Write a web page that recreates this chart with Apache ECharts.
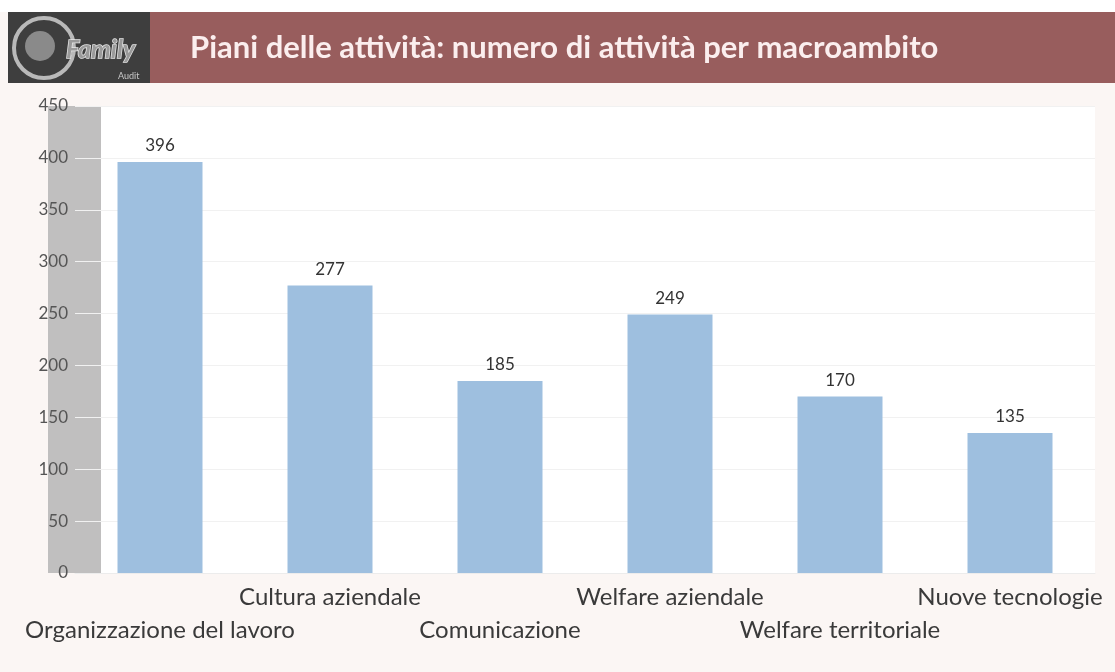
<!DOCTYPE html>
<html>
<head>
<meta charset="utf-8">
<title>Piani delle attività</title>
<script src="https://cdn.jsdelivr.net/npm/echarts@6/dist/echarts.min.js"></script>
<style>
  html, body { margin: 0; padding: 0; background: #fbf6f4; }
  #chart { width: 1115px; height: 672px; }
</style>
</head>
<body>
<div id="chart"></div>
<script>
// Macroambiti and activity counts
const categories = [
  'Organizzazione del lavoro',
  'Cultura aziendale',
  'Comunicazione',
  'Welfare aziendale',
  'Welfare territoriale',
  'Nuove tecnologie'
];
const activityCounts = [396, 277, 185, 249, 170, 135];
const titleText = 'Piani delle attività: numero di attività per macroambito';

const chart = echarts.init(document.getElementById('chart'), null, { renderer: 'canvas' });

const FONT = 'Lato, "Open Sans", sans-serif';

chart.setOption({
  backgroundColor: '#fbf6f4',
  animation: false,
  grid: { left: 75, right: 20, top: 106, bottom: 99 },
  graphic: [
    // white strip above the header
    { type: 'rect', z: -20, shape: { x: 0, y: 0, width: 1115, height: 12 }, style: { fill: '#ffffff' } },
    // header band
    { type: 'rect', z: -20, shape: { x: 150, y: 12, width: 965, height: 71 }, style: { fill: '#985d5d' } },
    { type: 'rect', z: -20, shape: { x: 8, y: 12, width: 142, height: 71 }, style: { fill: '#3e3e3e' } },
    // logo
    { type: 'circle', z: -19, shape: { cx: 44, cy: 48, r: 30 }, style: { fill: 'none', stroke: '#b9b9b9', lineWidth: 4 } },
    { type: 'circle', z: -19, shape: { cx: 40, cy: 46, r: 15 }, style: { fill: '#8a8a8a' } },
    { type: 'text', z: -18, style: { x: 66, y: 50, text: 'Family', font: 'italic bold 25px ' + FONT, fill: '#9a9a9a', stroke: '#e6e6e6', lineWidth: 1.5, verticalAlign: 'middle' } },
    { type: 'text', z: -18, style: { x: 118, y: 76, text: 'Audit', font: '9px ' + FONT, fill: '#c8c8c8', verticalAlign: 'middle' } },
    // title
    { type: 'text', z: -18, style: { x: 190, y: 48, text: titleText, font: 'bold 31px ' + FONT, fill: '#fbeeee', verticalAlign: 'middle' } },
    // plot area and side wall
    { type: 'rect', z: -20, shape: { x: 101, y: 106, width: 994, height: 467 }, style: { fill: '#ffffff' } },
    { type: 'rect', z: -20, shape: { x: 48, y: 106, width: 53, height: 467 }, style: { fill: '#c0bfbf' } }
  ],
  xAxis: {
    type: 'category',
    data: categories,
    axisLine: { show: true, lineStyle: { color: '#ececec' } },
    axisTick: { show: false },
    axisLabel: {
      interval: 0,
      margin: 8,
      fontFamily: FONT,
      fontSize: 24,
      color: '#3a3a3a',
      lineHeight: 33,
      formatter: (v, i) => (i % 2 === 0 ? '\n' + v : v)
    }
  },
  yAxis: {
    type: 'value',
    min: 0,
    max: 450,
    interval: 50,
    axisLine: { show: false },
    axisTick: { show: false },
    splitLine: { lineStyle: { color: '#f1f1f1' } },
    axisLabel: { margin: 7, fontFamily: FONT, fontSize: 17, color: '#555555' }
  },
  series: [{
    type: 'bar',
    data: activityCounts,
    barWidth: '50%',
    itemStyle: { color: '#9ebfdf' },
    label: {
      show: true,
      position: 'top',
      distance: 8,
      fontFamily: FONT,
      fontSize: 17,
      color: '#333333'
    }
  }]
});
</script>
</body>
</html>
